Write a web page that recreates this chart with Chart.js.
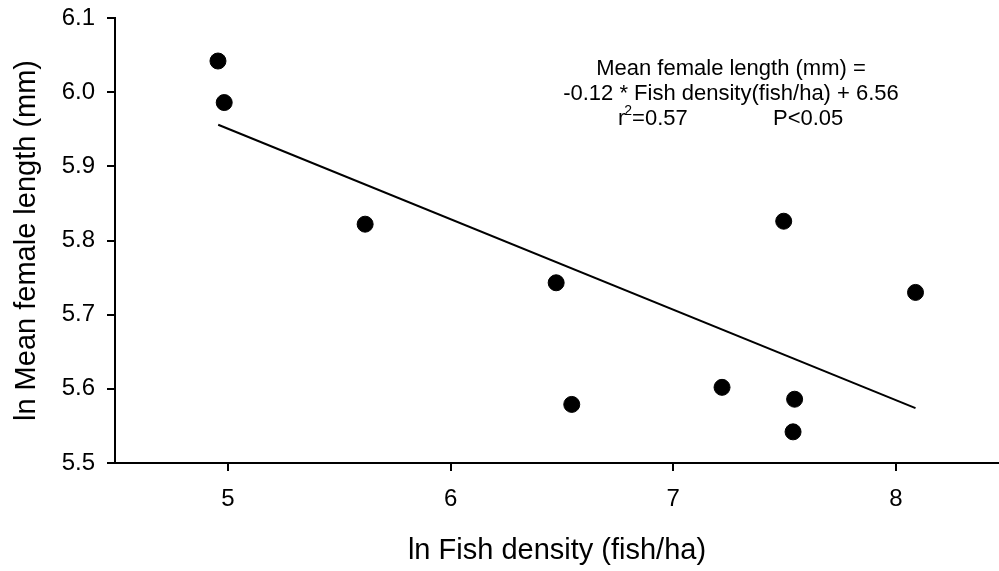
<!DOCTYPE html>
<html>
<head>
<meta charset="utf-8">
<script src="https://cdn.jsdelivr.net/npm/chart.js@4"></script>
<style>
  html, body { margin: 0; padding: 0; background: #fff; overflow: hidden; }
  /* canvas is a little wider than the frame so the x axis runs to the edge */
  #wrap { width: 999px; height: 571px; overflow: hidden; }
</style>
</head>
<body>
<div id="wrap"><canvas id="densityChart" width="1008" height="571"></canvas></div>
<script>
// ln fish density vs ln mean female length, one point per site
const densityX = [4.955, 4.983, 5.616, 6.474, 6.544, 7.219, 7.496, 7.545, 7.538, 8.088];
const lengthY  = [6.042, 5.986, 5.822, 5.743, 5.579, 5.602, 5.826, 5.586, 5.542, 5.730];

// fitted regression line, end points
const fitX = [4.956, 8.088];
const fitY = [5.956, 5.574];

const xTicks = [5, 6, 7, 8];

const fitText = [
    'Mean female length (mm) =',
    '-0.12 * Fish density(fish/ha) + 6.56'
];

const FONT = "'Liberation Sans', Arial, sans-serif";

const points = densityX.map((x, i) => ({ x: x, y: lengthY[i] }));
const fitLine = fitX.map((x, i) => ({ x: x, y: fitY[i] }));

// equation block in the upper right
const equationLabel = {
    id: 'equationLabel',
    afterDraw(chart) {
        const ctx = chart.ctx;
        const cx = 731;
        ctx.save();
        ctx.fillStyle = '#000';
        ctx.textBaseline = 'middle';
        ctx.textAlign = 'center';
        ctx.font = '22px ' + FONT;
        ctx.fillText(fitText[0], cx, 69);
        ctx.fillText(fitText[1], cx, 94);

        // r² with a raised 2, then the P value
        ctx.textAlign = 'left';
        let x = 618;
        const y = 119;
        ctx.fillText('r', x, y);
        x += ctx.measureText('r').width;
        ctx.font = '14px ' + FONT;
        ctx.fillText('2', x - 1, y - 8);
        x += ctx.measureText('2').width - 1;
        ctx.font = '22px ' + FONT;
        ctx.fillText('=0.57', x, y);
        ctx.fillText('P<0.05', 773, y);
        ctx.restore();
    }
};

const ctx = document.getElementById('densityChart').getContext('2d');
const chart = new Chart(ctx, {
    type: 'scatter',
    data: {
        datasets: [{
            label: 'sites',
            data: points,
            backgroundColor: '#000',
            borderColor: '#000',
            pointRadius: 8,
            pointHoverRadius: 8,
            order: 1
        }, {
            label: 'fit',
            data: fitLine,
            showLine: true,
            borderColor: '#000',
            borderWidth: 2,
            pointRadius: 0,
            fill: false,
            order: 2
        }]
    },
    options: {
        responsive: false,
        animation: false,
        layout: { padding: { top: 18, right: 0, left: 0, bottom: 0 } },
        plugins: {
            legend: { display: false },
            tooltip: { enabled: false }
        },
        scales: {
            x: {
                type: 'linear',
                min: 4.4925,
                max: 8.463,
                afterBuildTicks: (scale) => {
                    scale.ticks = xTicks.map(v => ({ value: v }));
                },
                afterFit: (scale) => {
                    scale.height = 108;
                    scale.paddingLeft = 0;
                    scale.paddingRight = 0;
                },
                grid: {
                    drawOnChartArea: false,
                    color: '#000',
                    lineWidth: 2,
                    tickLength: 8
                },
                border: { display: true, color: '#000', width: 2 },
                ticks: {
                    color: '#000',
                    padding: 14,
                    font: { family: FONT, size: 24 }
                },
                title: {
                    display: true,
                    text: 'ln Fish density (fish/ha)',
                    color: '#000',
                    padding: { top: 0, bottom: 3 },
                    font: { family: FONT, size: 29 }
                }
            },
            y: {
                min: 5.5,
                max: 6.1,
                afterFit: (scale) => {
                    scale.width = 115;
                    scale.paddingTop = 0;
                    scale.paddingBottom = 0;
                },
                grid: {
                    drawOnChartArea: false,
                    color: '#000',
                    lineWidth: 2,
                    tickLength: 8
                },
                border: { display: true, color: '#000', width: 2 },
                ticks: {
                    stepSize: 0.1,
                    color: '#000',
                    padding: 12,
                    callback: (v) => Number(v).toFixed(1),
                    font: { family: FONT, size: 24 }
                },
                title: {
                    display: true,
                    text: 'ln Mean female length (mm)',
                    color: '#000',
                    padding: { top: 10, bottom: 0 },
                    font: { family: FONT, size: 29 }
                }
            }
        }
    },
    plugins: [equationLabel]
});
</script>
</body>
</html>
